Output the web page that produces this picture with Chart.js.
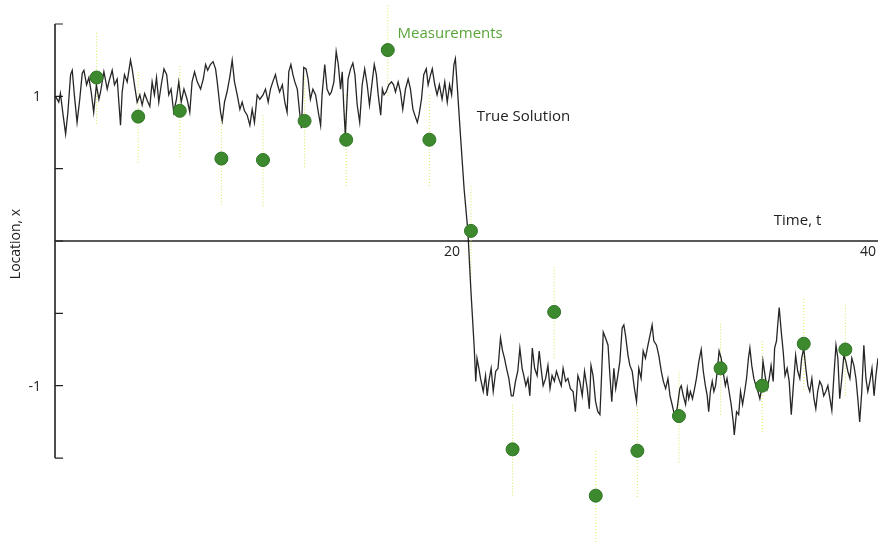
<!DOCTYPE html>
<html><head><meta charset="utf-8">
<script src="https://cdn.jsdelivr.net/npm/chart.js@4/dist/chart.umd.min.js"></script>
<style>html,body{margin:0;padding:0;background:#fff}#wrap{width:878px;height:542px}</style>
</head><body><div id="wrap"><canvas id="c" width="878" height="542"></canvas></div>
<script>
// Measurements (time, value, error half-width)
const measureTime  = [2, 4, 6, 8, 10, 12, 14, 16, 18, 20, 22, 24, 26, 28, 30, 32, 34, 36, 38];
const measureValue = [1.13, 0.86, 0.90, 0.57, 0.56, 0.83, 0.70, 1.32, 0.70, 0.07,
                      -1.44, -0.49, -1.76, -1.45, -1.21, -0.88, -1.00, -0.71, -0.75];
const measureError = [0.32, 0.32, 0.32, 0.32, 0.32, 0.32, 0.32, 0.32, 0.32, 0.32,
                      0.32, 0.32, 0.32, 0.32, 0.32, 0.32, 0.32, 0.32, 0.32];

// True solution, [time, location]
const solutionPoints = [
[0.02,1.00],[0.18,0.96],[0.26,1.02],[0.39,0.87],[0.51,0.74],[0.62,0.89],[0.75,1.15],[0.83,1.18],[0.93,1.01],[1.06,0.82],[1.19,0.98],[1.31,1.16],[1.39,1.18],[1.52,1.08],[1.63,1.13],[1.74,1.03],[1.86,0.89],[1.99,1.08],[2.11,0.98],[2.19,1.03],[2.35,1.17],[2.51,1.05],[2.59,1.10],[2.75,1.18],[2.86,1.08],[2.99,1.12],[3.15,0.80],[3.23,1.03],[3.34,1.15],[3.47,1.10],[3.63,1.25],[3.71,1.19],[3.82,1.08],[3.95,0.96],[4.08,1.01],[4.19,0.94],[4.31,1.02],[4.44,0.97],[4.56,0.93],[4.67,1.10],[4.78,1.01],[4.88,1.13],[4.99,0.96],[5.11,1.08],[5.24,1.19],[5.37,1.15],[5.47,1.01],[5.58,1.05],[5.71,0.89],[5.84,0.98],[5.95,1.10],[6.07,0.96],[6.20,1.05],[6.35,0.98],[6.48,0.89],[6.59,1.10],[6.71,1.17],[6.84,1.10],[7.00,1.05],[7.13,1.12],[7.24,1.22],[7.34,1.18],[7.47,1.22],[7.60,1.24],[7.72,1.19],[7.80,1.10],[7.96,0.89],[8.04,0.83],[8.15,0.96],[8.27,1.03],[8.40,1.13],[8.52,1.25],[8.63,1.10],[8.76,1.01],[8.89,0.91],[9.00,0.96],[9.11,0.90],[9.24,0.87],[9.37,0.80],[9.48,0.91],[9.59,0.82],[9.72,1.01],[9.85,0.98],
[10.00,1.01],[10.12,1.05],[10.25,0.96],[10.36,1.05],[10.47,1.10],[10.60,1.15],[10.70,1.08],[10.80,1.03],[10.93,1.08],[11.05,0.96],[11.16,0.89],[11.24,1.17],[11.34,1.22],[11.44,1.15],[11.53,1.10],[11.65,1.05],[11.76,0.89],[11.85,0.78],[11.96,1.20],[12.07,1.19],[12.17,1.12],[12.28,0.98],[12.40,1.05],[12.53,1.01],[12.66,0.89],[12.77,0.80],[12.84,1.01],[12.97,1.22],[13.08,1.05],[13.20,1.01],[13.29,1.03],[13.41,1.10],[13.52,1.31],[13.62,1.22],[13.73,1.05],[13.81,1.17],[13.88,0.94],[13.96,0.73],[14.09,1.12],[14.21,1.19],[14.32,1.23],[14.42,1.15],[14.53,0.94],[14.65,0.82],[14.77,1.08],[14.89,1.19],[15.01,1.08],[15.12,0.94],[15.25,1.10],[15.35,1.22],[15.45,1.15],[15.54,1.01],[15.66,0.87],[15.74,1.05],[15.82,1.01],[15.92,1.03],[16.05,1.08],[16.18,1.10],[16.28,1.08],[16.37,1.03],[16.50,1.10],[16.61,1.03],[16.72,0.91],[16.85,1.05],[16.98,1.12],[17.09,1.05],[17.21,0.91],[17.30,0.87],[17.42,0.82],[17.50,0.87],[17.62,0.98],[17.73,1.15],[17.85,1.19],[17.94,1.08],[18.06,1.15],[18.14,1.19],[18.26,1.08],[18.37,1.01],[18.48,1.08],[18.61,0.98],[18.74,1.10],[18.86,0.96],[18.97,1.08],[19.07,1.01],[19.18,1.22],[19.25,1.26],
[19.35,1.05],[19.50,0.72],[19.67,0.36],[19.85,0.07],[20.00,-0.35],[20.15,-0.72],[20.23,-0.97],
[20.29,-0.81],[20.38,-0.88],[20.46,-0.95],[20.59,-1.04],[20.70,-0.93],[20.78,-1.07],[20.86,-0.97],[20.97,-0.88],[21.07,-1.04],[21.19,-0.90],[21.30,-0.88],[21.42,-0.67],[21.52,-0.76],[21.61,-0.81],[21.71,-0.88],[21.82,-0.95],[21.94,-1.07],[22.03,-1.07],[22.14,-0.97],[22.25,-0.90],[22.35,-0.74],[22.46,-0.88],[22.54,-0.93],[22.64,-1.00],[22.74,-0.95],[22.83,-1.07],[22.95,-0.74],[23.06,-0.88],[23.18,-0.93],[23.28,-0.76],[23.37,-0.88],[23.47,-1.00],[23.59,-0.95],[23.70,-0.86],[23.80,-1.02],[23.90,-0.93],[24.01,-0.97],[24.11,-0.90],[24.22,-0.95],[24.34,-1.00],[24.43,-0.88],[24.55,-0.97],[24.66,-0.95],[24.78,-1.02],[24.91,-1.04],[25.02,-1.18],[25.14,-0.93],[25.23,-0.97],[25.35,-1.07],[25.46,-0.90],[25.59,-1.02],[25.69,-1.16],[25.77,-0.86],[25.87,-0.93],[25.99,-1.11],[26.10,-1.18],[26.20,-1.20],[26.26,-1.00],[26.36,-0.63],[26.47,-0.67],[26.59,-0.72],[26.69,-0.95],[26.77,-1.11],[26.87,-0.88],[26.96,-1.02],[27.06,-0.93],[27.16,-0.83],[27.27,-0.60],[27.35,-0.58],[27.43,-0.65],[27.55,-0.79],[27.64,-0.86],[27.75,-0.90],[27.86,-1.02],[27.96,-1.11],[28.07,-0.88],[28.18,-0.95],[28.28,-0.76],[28.39,-0.81],[28.51,-0.72],[28.61,-0.65],[28.71,-0.58],[28.79,-0.69],[28.92,-0.72],[29.03,-0.79],[29.15,-0.90],[29.25,-0.97],[29.36,-1.02],[29.47,-0.95],[29.57,-1.07],[29.67,-1.13],[29.78,-1.20],[29.91,-1.16],[30.04,-1.02],
[30.11,-1.00],[30.21,-1.07],[30.32,-1.13],[30.40,-1.02],[30.47,-1.09],[30.55,-1.04],[30.65,-1.09],[30.75,-1.02],[30.84,-0.95],[30.96,-0.83],[31.07,-0.75],[31.17,-0.90],[31.27,-1.00],[31.36,-1.07],[31.43,-1.18],[31.51,-1.04],[31.60,-0.97],[31.68,-1.04],[31.76,-1.00],[31.84,-0.90],[31.93,-0.76],[32.03,-0.81],[32.12,-0.90],[32.23,-1.00],[32.31,-0.95],[32.41,-1.04],[32.51,-1.13],[32.61,-1.25],[32.66,-1.34],[32.77,-1.18],[32.87,-1.20],[32.96,-1.04],[33.06,-1.13],[33.16,-1.04],[33.25,-0.95],[33.34,-0.81],[33.41,-0.74],[33.50,-0.86],[33.60,-0.95],[33.70,-1.00],[33.80,-1.04],[33.89,-1.09],[33.95,-1.04],[34.04,-0.83],[34.14,-0.93],[34.24,-1.02],[34.34,-0.95],[34.43,-0.86],[34.53,-0.97],[34.60,-0.74],[34.69,-0.69],[34.76,-0.56],[34.82,-0.46],[34.92,-0.63],[35.01,-0.76],[35.10,-0.93],[35.20,-0.88],[35.30,-0.97],[35.40,-1.20],[35.49,-1.02],[35.61,-0.79],[35.71,-0.90],[35.81,-0.95],[35.90,-0.81],[36.00,-0.74],[36.10,-0.88],[36.20,-1.00],[36.29,-1.04],[36.39,-0.95],[36.49,-1.09],[36.58,-1.16],[36.67,-1.04],[36.77,-0.97],[36.87,-1.00],[36.96,-1.07],[37.06,-1.04],[37.16,-1.00],[37.26,-1.09],[37.35,-1.17],[37.45,-0.93],[37.55,-0.72],[37.64,-0.81],[37.73,-1.09],[37.83,-0.95],[37.93,-0.79],[38.02,-0.83],[38.12,-0.90],[38.22,-0.95],[38.31,-0.81],[38.41,-0.86],[38.51,-0.95],[38.60,-1.09],[38.69,-1.25],[38.79,-1.04],[38.89,-0.72],[38.99,-0.95],[39.08,-1.04],[39.18,-0.97],[39.28,-0.88],[39.38,-1.07],[39.47,-0.93],[39.57,-0.81]
];

// Axis ranges, ticks and labels
const xRange = [0, 39.57];
const yRange = [-2.05, 1.65];      // plotting range (room for low measurement)
const yAxisExtent = [-1.5, 1.5];   // drawn extent of the vertical axis
const xTickValues = [20, 40];
const xTickLabels = ["20", "40"];
const yTickValues = [-1.5, -1, -0.5, 0, 0.5, 1, 1.5];
const yTickLabels = ["", "-1", "", "", "", "1", ""];

// Text annotations placed at data coordinates
const annotations = [
  {text: "Measurements",  t: 19.0,  v: 1.43, color: "#5aa53a"},
  {text: "True Solution", t: 22.52, v: 0.86, color: "#222222"},
  {text: "Time, t",       t: 35.7,  v: 0.14, color: "#222222"}
];
const yAxisTitle = "Location, x";

// Build datasets
const errorBarData = [];
measureTime.forEach((t, i) => {
  errorBarData.push({x: t, y: measureValue[i] - measureError[i]});
  errorBarData.push({x: t, y: measureValue[i] + measureError[i]});
  errorBarData.push({x: t, y: null});
});
const measureData = measureTime.map((t, i) => ({x: t, y: measureValue[i]}));
const solutionData = solutionPoints.map(p => ({x: p[0], y: p[1]}));

const FONT = '"Open Sans", "DejaVu Sans", sans-serif';

const axesPlugin = {
  id: 'customAxes',
  beforeDatasetsDraw(chart) {
    const {ctx, scales: {x, y}} = chart;
    const xl = x.getPixelForValue(x.min), xr = x.getPixelForValue(x.max);
    const y0 = y.getPixelForValue(0);
    const yt = y.getPixelForValue(yAxisExtent[1]), yb = y.getPixelForValue(yAxisExtent[0]);
    ctx.save();
    ctx.strokeStyle = '#222';
    ctx.lineWidth = 1.6;
    ctx.beginPath();
    ctx.moveTo(xl, y0); ctx.lineTo(xr, y0);
    ctx.moveTo(xl, yt); ctx.lineTo(xl, yb);
    ctx.stroke();
    ctx.lineWidth = 1.2;
    ctx.beginPath();
    yTickValues.forEach(v => {
      const p = y.getPixelForValue(v);
      ctx.moveTo(xl, p); ctx.lineTo(xl + 8, p);
    });
    ctx.stroke();
    ctx.restore();
  },
  afterDraw(chart) {
    const {ctx, scales: {x, y}} = chart;
    const xl = x.getPixelForValue(x.min);
    const y0 = y.getPixelForValue(0);
    ctx.save();
    ctx.font = '14px ' + FONT;
    ctx.fillStyle = '#222';
    ctx.textAlign = 'right'; ctx.textBaseline = 'middle';
    yTickValues.forEach((v, i) => {
      if (yTickLabels[i]) ctx.fillText(yTickLabels[i], xl - 14, y.getPixelForValue(v) + 1);
    });
    ctx.textAlign = 'right'; ctx.textBaseline = 'top';
    xTickValues.forEach((v, i) => {
      ctx.fillText(xTickLabels[i], x.getPixelForValue(v) - 11, y0 + 4);
    });
    ctx.font = '15px ' + FONT;
    ctx.textAlign = 'center'; ctx.textBaseline = 'middle';
    annotations.forEach(a => {
      ctx.fillStyle = a.color;
      ctx.fillText(a.text, x.getPixelForValue(a.t), y.getPixelForValue(a.v));
    });
    ctx.font = '14px ' + FONT;
    ctx.fillStyle = '#222';
    const yMid = (y.getPixelForValue(yAxisExtent[1]) + y.getPixelForValue(yAxisExtent[0])) / 2;
    ctx.translate(16, yMid + 3);
    ctx.rotate(-Math.PI / 2);
    ctx.fillText(yAxisTitle, 0, 0);
    ctx.restore();
  }
};

new Chart(document.getElementById('c'), {
  type: 'scatter',
  data: {
    datasets: [
      {
        type: 'line', label: 'Measurements',
        data: measureData, showLine: false,
        pointRadius: 6.5, pointHoverRadius: 6.5,
        pointBackgroundColor: '#3d8a2e', pointBorderColor: '#2f7424', pointBorderWidth: 1,
        clip: false, order: 0
      },
      {
        type: 'line', label: 'True Solution',
        data: solutionData, showLine: true,
        borderColor: 'rgba(20,20,20,0.92)', borderWidth: 1.3,
        pointRadius: 0, tension: 0, clip: false, order: 1
      },
      {
        type: 'line', label: 'Error bars',
        data: errorBarData, showLine: true, spanGaps: false,
        borderColor: 'rgba(212,228,70,0.9)', borderWidth: 1, borderDash: [1, 2],
        pointRadius: 0, clip: false, order: 2
      }
    ]
  },
  options: {
    responsive: false,
    animation: false,
    events: [],
    layout: {autoPadding: false, padding: {left: 55, right: 0, top: 2.3, bottom: 4.4}},
    plugins: {legend: {display: false}, tooltip: {enabled: false}},
    scales: {
      x: {type: 'linear', min: xRange[0], max: xRange[1], display: false},
      y: {type: 'linear', min: yRange[0], max: yRange[1], display: false}
    }
  },
  plugins: [axesPlugin]
});
</script>
</body></html>
